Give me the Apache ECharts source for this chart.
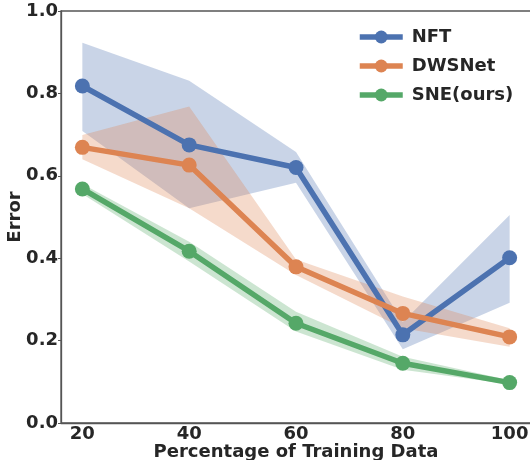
<!DOCTYPE html>
<html><head><meta charset="utf-8">
<script src="https://cdn.jsdelivr.net/npm/echarts@6/dist/echarts.min.js"></script>
<style>html,body{margin:0;padding:0;background:#fff}#c{width:530px;height:460px}</style>
</head><body><div id="c"></div>
<script>
const xValues = [20, 40, 60, 80, 100];
const yTicks = [0.0, 0.2, 0.4, 0.6, 0.8, 1.0];
const seriesNames = ['NFT', 'DWSNet', 'SNE(ours)'];
const nftMean  = [0.818, 0.675, 0.620, 0.214, 0.401];
const nftLow   = [0.709, 0.521, 0.583, 0.179, 0.292];
const nftHigh  = [0.923, 0.831, 0.658, 0.245, 0.505];
const dwsMean  = [0.669, 0.626, 0.379, 0.266, 0.209];
const dwsLow   = [0.640, 0.521, 0.359, 0.230, 0.185];
const dwsHigh  = [0.699, 0.768, 0.397, 0.307, 0.230];
const sneMean  = [0.568, 0.417, 0.242, 0.145, 0.098];
const sneLow   = [0.556, 0.392, 0.222, 0.129, 0.094];
const sneHigh  = [0.580, 0.440, 0.270, 0.161, 0.104];
const colors = ['#4C72B0', '#DD8452', '#55A868'];

const means = [nftMean, dwsMean, sneMean];
const lows = [nftLow, dwsLow, sneLow];
const highs = [nftHigh, dwsHigh, sneHigh];
const series = [];
for (let i = 0; i < 3; i++) {
  const lo = lows[i], hi = highs[i];
  series.push({
    type: 'custom', silent: true, z: 1, clip: true,
    data: [[xValues[0], lo[0]]],
    renderItem: function (params, api) {
      const pts = [];
      for (let k = 0; k < xValues.length; k++) pts.push(api.coord([xValues[k], hi[k]]));
      for (let k = xValues.length - 1; k >= 0; k--) pts.push(api.coord([xValues[k], lo[k]]));
      return { type: 'polygon', shape: { points: pts }, style: { fill: colors[i], opacity: 0.3 } };
    }
  });
}
for (let i = 0; i < 3; i++) {
  series.push({
    name: seriesNames[i], type: 'line', z: 5 + i,
    symbol: 'circle', symbolSize: 15,
    lineStyle: { width: 5.5, color: colors[i] },
    itemStyle: { color: colors[i] },
    data: xValues.map((x, k) => [x, means[i][k]])
  });
}
const chart = echarts.init(document.getElementById('c'));
const txt = '#262626';
chart.setOption({
  animation: false,
  grid: { left: 61, top: 11, right: -1, bottom: 37, show: true, borderColor: '#555', borderWidth: 1.3,
          containLabel: false, outerBoundsMode: 'none' },
  legend: {
    data: seriesNames, left: 352, top: 23, orient: 'vertical', itemGap: 11,
    itemWidth: 43, itemHeight: 16,
    lineStyle: { width: 5.5 },
    textStyle: { fontFamily: 'DejaVu Sans', fontWeight: 'bold', fontSize: 18, color: txt, padding: [0, 0, 0, 4] }
  },
  xAxis: {
    type: 'value', min: 16, max: 104, interval: 20,
    name: 'Percentage of Training Data', nameLocation: 'middle', nameGap: 20, nameMoveOverlap: false,
    nameTextStyle: { fontFamily: 'DejaVu Sans', fontWeight: 'bold', fontSize: 18, color: txt },
    axisLine: { show: true, lineStyle: { color: '#555', width: 1.3 } },
    axisTick: { show: false },
    splitLine: { show: false },
    axisLabel: {
      fontFamily: 'DejaVu Sans', fontWeight: 'bold', fontSize: 18, color: txt, margin: 2,
      customValues: xValues,
      formatter: v => xValues.includes(v) ? String(v) : ''
    }
  },
  yAxis: {
    type: 'value', min: 0, max: 1, interval: 0.2,
    name: 'Error', nameLocation: 'middle', nameGap: 37, nameRotate: 90, nameMoveOverlap: false,
    nameTextStyle: { fontFamily: 'DejaVu Sans', fontWeight: 'bold', fontSize: 18, color: txt },
    axisLine: { show: true, lineStyle: { color: '#555', width: 1.3 } },
    axisTick: { show: true, length: 3, lineStyle: { color: '#555' } },
    splitLine: { show: false },
    axisLabel: {
      fontFamily: 'DejaVu Sans', fontWeight: 'bold', fontSize: 18, color: txt, margin: 3,
      customValues: yTicks,
      formatter: v => v.toFixed(1)
    }
  },
  series: series
});
</script></body></html>
